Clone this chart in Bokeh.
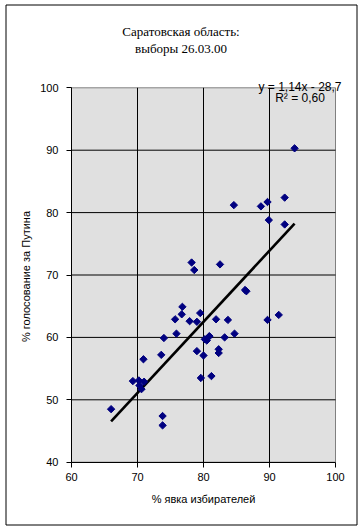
import numpy as np
from bokeh.plotting import figure
from bokeh.models import Range1d, FixedTicker, Label, LinearAxis, ColumnDataSource
from bokeh.embed import file_html
from bokeh.resources import INLINE

# ---- data ----
turnout = [93.8, 84.6, 88.7, 89.7, 92.3, 89.9, 92.3, 78.2, 78.6, 82.5,
           86.3, 86.5, 76.8, 76.7, 79.5, 75.7, 77.9, 79.0, 81.9, 83.7,
           89.7, 91.4, 75.9, 74.0, 84.7, 83.2, 80.9, 80.2, 80.5, 80.8,
           79.0, 80.0, 82.3, 82.3, 73.6, 79.6, 81.2, 66.0, 73.8, 73.8,
           70.9, 69.3, 70.2, 71.0, 70.3, 70.6]
putin = [90.3, 81.2, 81.0, 81.7, 82.4, 78.8, 78.1, 72.0, 70.8, 71.7,
         67.6, 67.4, 64.9, 63.7, 63.9, 62.9, 62.6, 62.5, 62.9, 62.8,
         62.8, 63.6, 60.6, 59.9, 60.6, 60.0, 60.2, 59.7, 59.5, 60.1,
         57.8, 57.1, 58.1, 57.5, 57.2, 53.5, 53.8, 48.5, 47.4, 45.9,
         56.5, 53.0, 53.1, 52.9, 52.3, 51.7]
slope = 1.14
intercept = -28.7
r_squared = 0.60
x_ticks = [60, 70, 80, 90, 100]
y_ticks = [40, 50, 60, 70, 80, 90, 100]
title_lines = ["Саратовская область:", "выборы 26.03.00"]
x_label = "% явка избирателей"
y_label = "%  голосование за Путина"

SANS = "Liberation Sans"
SERIF = "Liberation Serif"

# ---- layout (pixels on the canvas) ----
W, H = 362, 529
PX_L, PX_R, PX_T, PX_B = 71.0, 335.0, 87.3, 461.7
XMIN, XMAX, YMIN, YMAX = x_ticks[0], x_ticks[-1], y_ticks[0], y_ticks[-1]
SX = (PX_R - PX_L) / (XMAX - XMIN)
SY = (PX_B - PX_T) / (YMAX - YMIN)


def dx(px):
    return XMIN + (px - PX_L) / SX


def dy(py):
    return YMAX - (py - PX_T) / SY


p = figure(width=W, height=H, output_backend="svg", toolbar_location=None,
           x_range=Range1d(dx(0), dx(W)), y_range=Range1d(dy(H), dy(0)),
           x_axis_type=None, y_axis_type=None,
           min_border=0, min_border_left=0, min_border_right=0,
           min_border_top=0, min_border_bottom=0,
           background_fill_color="white", border_fill_color="white",
           outline_line_color=None)
p.grid.visible = False

# outer chart border
p.quad(left=[dx(5.5)], right=[dx(356.5)], top=[dy(4.5)], bottom=[dy(524.5)],
       fill_color=None, line_color="black", line_width=1)

# plot area
p.quad(left=[XMIN], right=[XMAX], bottom=[YMIN], top=[YMAX],
       fill_color="#e0e0e0", line_color="#808080", line_width=1)

# grid lines
gx = x_ticks[1:-1]
gy = y_ticks[1:-1]
p.segment(x0=gx, x1=gx, y0=[YMIN] * len(gx), y1=[YMAX] * len(gx),
          line_color="black", line_width=1)
p.segment(x0=[XMIN] * len(gy), x1=[XMAX] * len(gy), y0=gy, y1=gy,
          line_color="black", line_width=1)

# axes fixed at the plot-area edges
xaxis = LinearAxis(fixed_location=YMIN, bounds=(XMIN, XMAX),
                   ticker=FixedTicker(ticks=x_ticks), axis_label=x_label)
yaxis = LinearAxis(fixed_location=XMIN, bounds=(YMIN, YMAX),
                   ticker=FixedTicker(ticks=y_ticks), axis_label=y_label)
for ax in (xaxis, yaxis):
    ax.axis_line_color = "black"
    ax.major_tick_line_color = "black"
    ax.major_tick_out = 5
    ax.major_tick_in = 0
    ax.minor_tick_out = 0
    ax.minor_tick_in = 0
    ax.minor_tick_line_color = None
    ax.major_label_text_font = SANS
    ax.major_label_text_font_size = "11px"
    ax.major_label_text_color = "black"
    ax.axis_label_text_font = SANS
    ax.axis_label_text_font_size = "11px"
    ax.axis_label_text_font_style = "normal"
    ax.axis_label_text_color = "black"
xaxis.major_label_standoff = 6
yaxis.major_label_standoff = 8
xaxis.axis_label_standoff = 8
yaxis.axis_label_standoff = 5
p.add_layout(xaxis, "below")
p.add_layout(yaxis, "left")

# trend line
tx = np.array([min(turnout), max(turnout)])
ty = slope * tx + intercept
p.line(tx, ty, line_color="black", line_width=2.6)

# points
src = ColumnDataSource(dict(x=turnout, y=putin))
p.scatter("x", "y", source=src, marker="square", angle=np.pi / 4, size=5.2,
          fill_color="#000080", line_color="#000080")

# title
for txt, py in zip(title_lines, (30.7, 48.3)):
    p.add_layout(Label(x=dx(180.5), y=dy(py), text=txt, text_align="center",
                       text_baseline="alphabetic", text_font=SERIF,
                       text_font_size="13px", text_color="black"))

# trend-line equation
eq = f"y = {slope:.2f}x - {abs(intercept):.1f}".replace(".", ",")
r2 = f"R\u00b2 = {r_squared:.2f}".replace(".", ",")
for txt, py in ((eq, 86.0), (r2, 97.3)):
    p.add_layout(Label(x=dx(299.5), y=dy(py), text=txt, text_align="center",
                       text_baseline="alphabetic", text_font=SANS,
                       text_font_size="12px", text_color="black"))

open("out.html", "w").write(file_html(p, INLINE))
